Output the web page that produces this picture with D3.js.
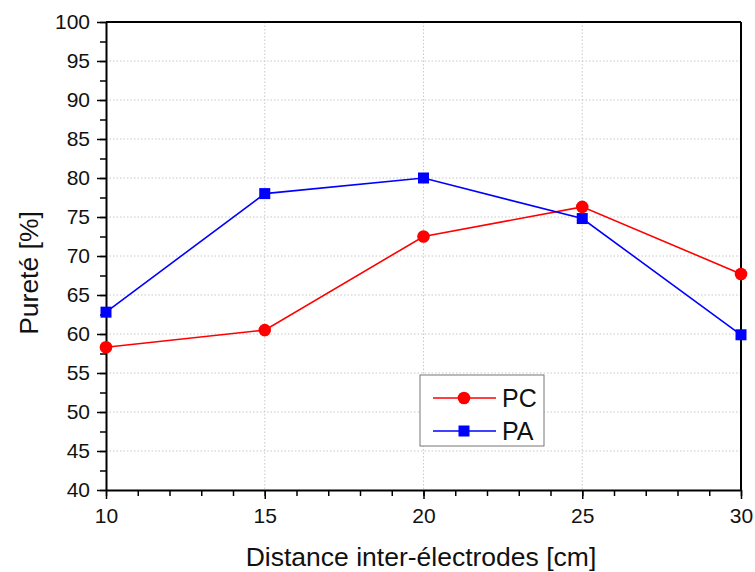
<!DOCTYPE html>
<html>
<head>
<meta charset="utf-8">
<script src="https://cdn.jsdelivr.net/npm/d3@7"></script>
<style>
  body { margin: 0; background: #fff; }
  svg text { font-family: "Liberation Sans", Arial, sans-serif; }
</style>
</head>
<body>
<svg id="chart" width="755" height="572"></svg>
<script>
var distances = [10, 15, 20, 25, 30];
var purityPC = [58.3, 60.5, 72.5, 76.3, 67.7];
var purityPA = [62.8, 78.0, 80.0, 74.8, 59.9];
var xTicks = [10, 15, 20, 25, 30];
var yTicks = [40, 45, 50, 55, 60, 65, 70, 75, 80, 85, 90, 95, 100];

var svg = d3.select("#chart"),
    margin = {top: 22, right: 14, bottom: 82, left: 106},
    width = +svg.attr("width") - margin.left - margin.right,
    height = +svg.attr("height") - margin.top - margin.bottom,
    g = svg.append("g").attr("transform", "translate(" + margin.left + "," + margin.top + ")");

var x = d3.scaleLinear().domain([10, 30]).range([0, width]);
var y = d3.scaleLinear().domain([40, 100]).range([height, 0]);

// grid
g.append("g").selectAll("line")
    .data(yTicks.slice(1, -1))
    .enter().append("line")
    .attr("x1", 0).attr("x2", width)
    .attr("y1", function (d) { return y(d); })
    .attr("y2", function (d) { return y(d); })
    .attr("stroke", "#c8c8c8").attr("stroke-dasharray", "1.5,2");

g.append("g").selectAll("line")
    .data(xTicks.slice(1, -1))
    .enter().append("line")
    .attr("y1", 0).attr("y2", height)
    .attr("x1", function (d) { return x(d); })
    .attr("x2", function (d) { return x(d); })
    .attr("stroke", "#c8c8c8").attr("stroke-dasharray", "1.5,2");

// minor ticks
g.append("g")
    .attr("transform", "translate(0," + height + ")")
    .call(d3.axisBottom(x).tickValues(d3.range(10, 31, 1)).tickSize(6).tickFormat(""))
    .call(function (a) { a.select(".domain").remove(); a.selectAll("line").attr("stroke", "#000").attr("stroke-width", 1.5); });

g.append("g")
    .call(d3.axisLeft(y).tickValues(d3.range(40, 100.1, 2.5)).tickSize(6).tickFormat(""))
    .call(function (a) { a.select(".domain").remove(); a.selectAll("line").attr("stroke", "#000").attr("stroke-width", 1.5); });

// major axes
var xAxis = g.append("g")
    .attr("transform", "translate(0," + height + ")")
    .call(d3.axisBottom(x).tickValues(xTicks).tickSize(9).tickPadding(9).tickSizeOuter(0));
var yAxis = g.append("g")
    .call(d3.axisLeft(y).tickValues(yTicks).tickSize(9).tickPadding(7).tickSizeOuter(0));

[xAxis, yAxis].forEach(function (a) {
    a.select(".domain").attr("stroke", "#000").attr("stroke-width", 2);
    a.selectAll("line").attr("stroke", "#000").attr("stroke-width", 1.5);
    a.selectAll("text").attr("font-size", 21).attr("fill", "#111")
        .style("font-family", "'Liberation Sans', Arial, sans-serif");
});

// top and right frame
g.append("line").attr("x1", 0).attr("x2", width).attr("y1", 0).attr("y2", 0)
    .attr("stroke", "#000").attr("stroke-width", 2);
g.append("line").attr("x1", width).attr("x2", width).attr("y1", 0).attr("y2", height)
    .attr("stroke", "#000").attr("stroke-width", 2);

// axis titles
svg.append("text")
    .attr("x", 421).attr("y", 566)
    .attr("text-anchor", "middle").attr("font-size", 26.5).attr("fill", "#111")
    .text("Distance inter-électrodes [cm]");
svg.append("text")
    .attr("transform", "translate(38," + (margin.top + 251) + ") rotate(-90)")
    .attr("text-anchor", "middle").attr("font-size", 26.5).attr("fill", "#111")
    .text("Pureté [%]");

var line = d3.line()
    .x(function (d) { return x(d[0]); })
    .y(function (d) { return y(d[1]); });

var pcData = distances.map(function (d, i) { return [d, purityPC[i]]; });
var paData = distances.map(function (d, i) { return [d, purityPA[i]]; });

g.append("path").datum(pcData)
    .attr("fill", "none").attr("stroke", "#ff0000").attr("stroke-width", 1.6)
    .attr("d", line);
g.append("path").datum(paData)
    .attr("fill", "none").attr("stroke", "#0000ff").attr("stroke-width", 1.6)
    .attr("d", line);

g.selectAll(".pc").data(pcData).enter().append("circle")
    .attr("cx", function (d) { return x(d[0]); })
    .attr("cy", function (d) { return y(d[1]); })
    .attr("r", 6.3).attr("fill", "#ff0000");

g.selectAll(".pa").data(paData).enter().append("rect")
    .attr("x", function (d) { return x(d[0]) - 5.5; })
    .attr("y", function (d) { return y(d[1]) - 5.5; })
    .attr("width", 11).attr("height", 11).attr("fill", "#0000ff");

// legend
var leg = svg.append("g").attr("transform", "translate(420,375)");
leg.append("rect").attr("width", 124).attr("height", 71)
    .attr("fill", "#fff").attr("stroke", "#777").attr("stroke-width", 1);
var items = [{name: "PC", color: "#ff0000", shape: "circle"}, {name: "PA", color: "#0000ff", shape: "square"}];
items.forEach(function (it, i) {
    var cy = 23 + i * 33;
    leg.append("line").attr("x1", 13).attr("x2", 76).attr("y1", cy).attr("y2", cy)
        .attr("stroke", it.color).attr("stroke-width", 1.6);
    if (it.shape === "circle") {
        leg.append("circle").attr("cx", 44).attr("cy", cy).attr("r", 6.3).attr("fill", it.color);
    } else {
        leg.append("rect").attr("x", 38.5).attr("y", cy - 5.5).attr("width", 11).attr("height", 11).attr("fill", it.color);
    }
    leg.append("text").attr("x", 82).attr("y", cy + 9).attr("font-size", 25).attr("fill", "#111").text(it.name);
});
</script>
</body>
</html>
